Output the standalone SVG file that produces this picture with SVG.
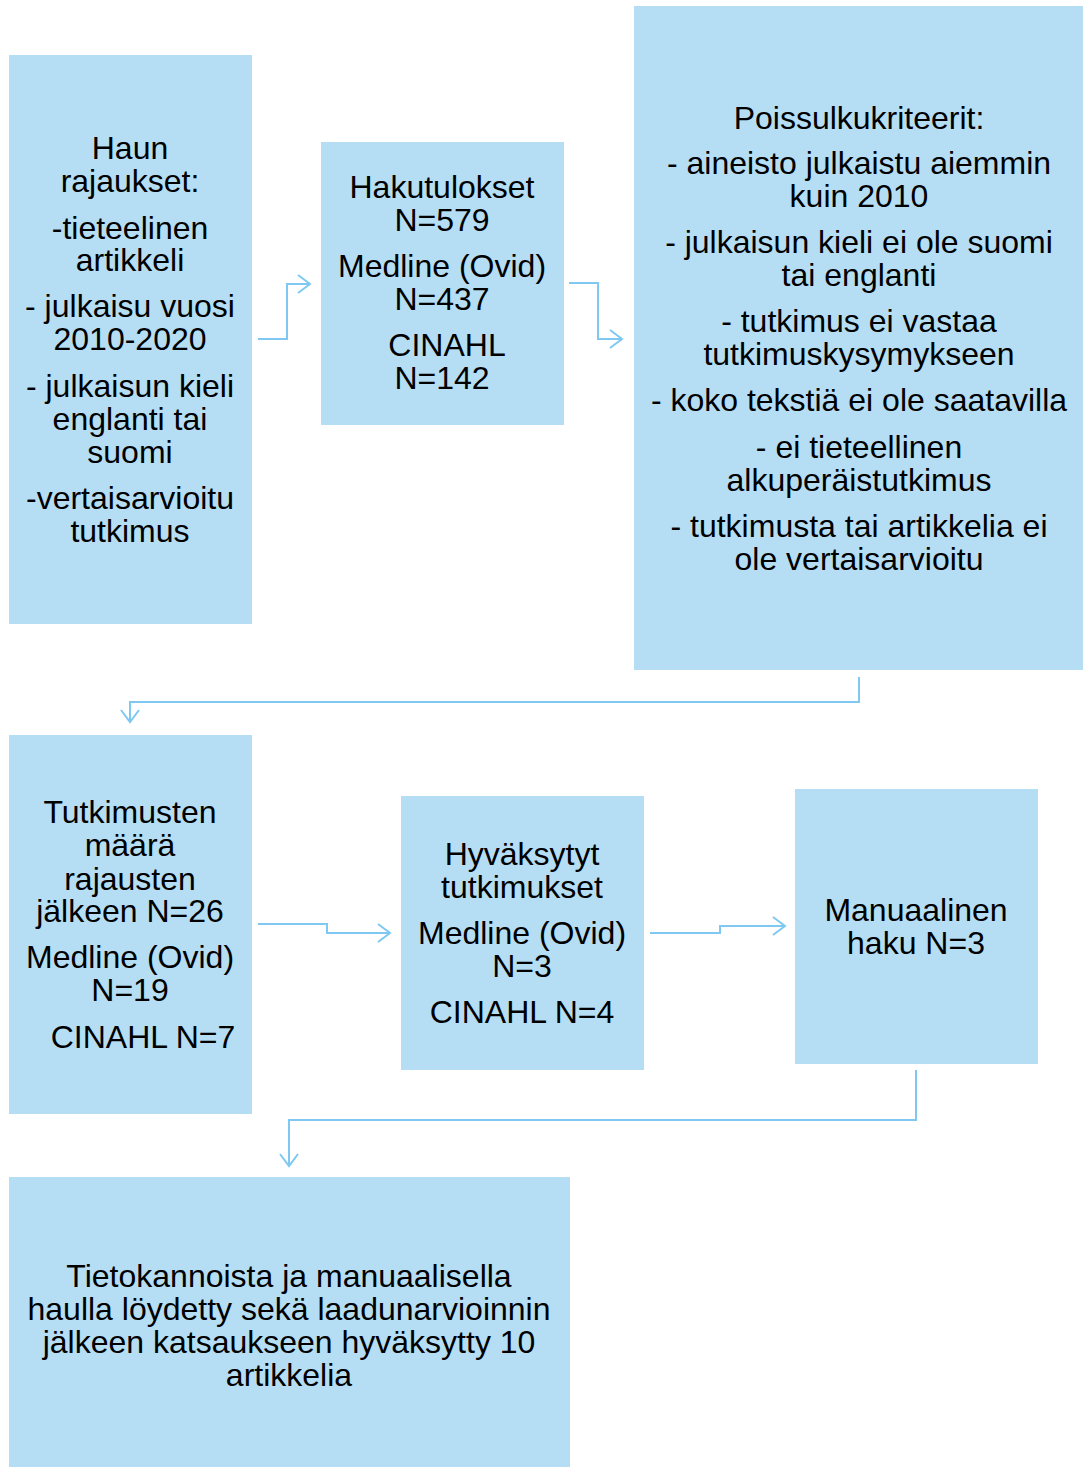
<svg xmlns="http://www.w3.org/2000/svg" width="1083" height="1467" viewBox="0 0 1083 1467">
<defs>
<style>
.box{fill:#B5DEF5;}
.t{font-family:"Liberation Sans",Arial,sans-serif;font-size:32px;fill:#000;text-anchor:middle;}
.c{fill:none;stroke:#7EC8F1;stroke-width:2;}
</style>
<marker id="ah" markerWidth="24" markerHeight="24" refX="21" refY="12" orient="auto" markerUnits="userSpaceOnUse">
<path d="M9,3 L21,12 L9,21" fill="none" stroke="#7EC8F1" stroke-width="2"/>
</marker>
</defs>
<rect width="1083" height="1467" fill="#fff"/>
<g id="connectors">
<path class="c" d="M258,339 H287 V284 H310" marker-end="url(#ah)"/>
<path class="c" d="M569,283 H598 V339 H622" marker-end="url(#ah)"/>
<path class="c" d="M859,677 V702 H130 V722" marker-end="url(#ah)"/>
<path class="c" d="M258,924 H327 V933 H390" marker-end="url(#ah)"/>
<path class="c" d="M650,933 H720 V926 H785" marker-end="url(#ah)"/>
<path class="c" d="M916,1070 V1120 H289 V1166" marker-end="url(#ah)"/>
</g>
<g id="n1">
<rect class="box" x="9" y="55" width="243" height="569"/>
<text class="t" x="130" y="159">Haun</text>
<text class="t" x="130" y="192">rajaukset:</text>
<text class="t" x="130" y="239">-tieteelinen</text>
<text class="t" x="130" y="271">artikkeli</text>
<text class="t" x="130" y="317">- julkaisu vuosi</text>
<text class="t" x="130" y="350">2010-2020</text>
<text class="t" x="130" y="397">- julkaisun kieli</text>
<text class="t" x="130" y="430">englanti tai</text>
<text class="t" x="130" y="463">suomi</text>
<text class="t" x="130" y="509">-vertaisarvioitu</text>
<text class="t" x="130" y="542">tutkimus</text>
</g>
<g id="n2">
<rect class="box" x="321" y="142" width="243" height="283"/>
<text class="t" x="442" y="198">Hakutulokset</text>
<text class="t" x="442" y="231">N=579</text>
<text class="t" x="442" y="277">Medline (Ovid)</text>
<text class="t" x="442" y="310">N=437</text>
<text class="t" x="447" y="356">CINAHL</text>
<text class="t" x="442" y="389">N=142</text>
</g>
<g id="n3">
<rect class="box" x="634" y="6" width="449" height="664"/>
<text class="t" x="859" y="129">Poissulkukriteerit:</text>
<text class="t" x="859" y="174">- aineisto julkaistu aiemmin</text>
<text class="t" x="859" y="207">kuin 2010</text>
<text class="t" x="859" y="253">- julkaisun kieli ei ole suomi</text>
<text class="t" x="859" y="286">tai englanti</text>
<text class="t" x="859" y="332">- tutkimus ei vastaa</text>
<text class="t" x="859" y="365">tutkimuskysymykseen</text>
<text class="t" x="859" y="411">- koko tekstiä ei ole saatavilla</text>
<text class="t" x="859" y="458">- ei tieteellinen</text>
<text class="t" x="859" y="491">alkuperäistutkimus</text>
<text class="t" x="859" y="537">- tutkimusta tai artikkelia ei</text>
<text class="t" x="859" y="570">ole vertaisarvioitu</text>
</g>
<g id="n4">
<rect class="box" x="9" y="735" width="243" height="379"/>
<text class="t" x="130" y="823">Tutkimusten</text>
<text class="t" x="130" y="856">määrä</text>
<text class="t" x="130" y="890">rajausten</text>
<text class="t" x="130" y="922">jälkeen N=26</text>
<text class="t" x="130" y="968">Medline (Ovid)</text>
<text class="t" x="130" y="1001">N=19</text>
<text class="t" x="143" y="1048">CINAHL N=7</text>
</g>
<g id="n5">
<rect class="box" x="401" y="796" width="243" height="274"/>
<text class="t" x="522" y="865">Hyväksytyt</text>
<text class="t" x="522" y="898">tutkimukset</text>
<text class="t" x="522" y="944">Medline (Ovid)</text>
<text class="t" x="522" y="977">N=3</text>
<text class="t" x="522" y="1023">CINAHL N=4</text>
</g>
<g id="n6">
<rect class="box" x="795" y="789" width="243" height="275"/>
<text class="t" x="916" y="921">Manuaalinen</text>
<text class="t" x="916" y="954">haku N=3</text>
</g>
<g id="n7">
<rect class="box" x="9" y="1177" width="561" height="290"/>
<text class="t" x="289" y="1287">Tietokannoista ja manuaalisella</text>
<text class="t" x="289" y="1320">haulla löydetty sekä laadunarvioinnin</text>
<text class="t" x="289" y="1353">jälkeen katsaukseen hyväksytty 10</text>
<text class="t" x="289" y="1386">artikkelia</text>
</g>
</svg>
